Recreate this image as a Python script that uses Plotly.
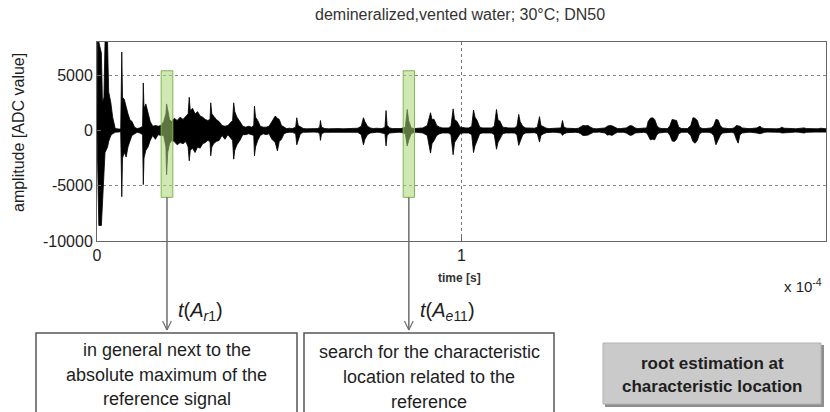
import plotly.graph_objects as go

# ---------------- data ----------------
# time in microseconds, upper / lower envelope of the signal in ADC values
t_us = [
    0.0, 0.1, 0.5, 1.2, 1.5, 1.9, 2.2, 2.9, 3.2, 3.8, 4.3, 5.0, 6.0, 6.5,
    6.8, 7.0, 7.5, 8.0, 8.5, 9.0, 9.6, 10.3, 11.0, 11.8,
    12.5, 12.7, 12.9, 13.4, 14.0, 14.6, 15.3, 16.0, 16.8, 17.5,
    18.3, 18.9, 19.1, 19.4, 19.9, 20.5, 21.2, 22.0, 22.8, 23.6, 24.4,
    25.0, 25.3, 25.6, 26.2, 26.9, 27.6, 28.3, 29.0, 29.7, 30.4,
    31.0, 31.2, 31.5, 32.0, 32.7, 33.5, 34.3, 35.1, 35.9,
    37.2, 37.5, 37.8, 38.4, 39.2, 40.0, 40.8, 41.6, 42.4,
    43.0, 43.2, 43.5, 44.1, 44.8, 45.6, 46.4, 47.2,
    48.0, 48.9, 49.5, 50.0, 50.6, 51.3, 52.0, 52.8, 53.6,
    54.5, 54.8, 55.2, 55.8, 56.6, 57.5, 58.5, 59.5, 60.5,
    61.1, 61.3, 61.6, 62.5, 63.5, 64.5, 65.5, 66.5, 67.5, 68.5, 69.5, 70.5, 71.5,
    72.5, 73.1, 73.5, 74.2, 75.0, 75.8, 76.6, 77.4, 78.2,
    79.0, 79.3, 79.6, 80.3, 81.0, 81.8, 82.6, 83.4,
    84.6, 85.1, 85.5, 86.2, 87.0, 87.8, 88.6, 89.4,
    90.6, 91.5, 91.9, 92.5, 93.2, 94.0, 94.8, 95.6, 96.4, 97.1,
    97.7, 98.1, 98.8, 99.6, 100.4, 101.2, 102.0, 102.8,
    103.3, 103.7, 104.3, 105.0, 105.8, 106.6, 107.4, 108.2, 109.0,
    109.6, 110.0, 110.6, 111.3, 112.1, 112.9, 113.7, 114.5, 115.2,
    115.7, 116.1, 116.8, 117.6, 118.4, 119.2, 120.0, 120.8,
    121.4, 121.8, 122.5, 123.3, 124.1, 124.9, 125.7, 126.5, 127.3,
    127.7, 128.1, 128.9, 129.7, 130.5, 131.3, 132.1,
    132.7, 133.3, 134.0, 134.7, 135.4, 136.2, 137.0, 137.8, 138.6, 139.4,
    140.0, 140.6, 141.3, 142.0, 142.8, 143.6, 144.4, 145.2,
    145.9, 146.4, 147.0, 147.6, 148.4, 149.2, 150.0, 150.8,
    151.2, 151.8, 152.4, 153.0, 153.6, 154.2, 155.0, 155.8, 156.6,
    157.2, 157.8, 158.4, 159.0, 159.6, 160.4, 161.2, 162.0,
    162.9, 163.5, 164.1, 164.7, 165.3, 166.1, 166.9, 167.7, 168.5,
    169.2, 169.8, 170.4, 171.0, 171.6, 172.4, 173.2, 174.0, 174.8,
    175.4, 175.9, 176.4, 177.0, 177.8, 178.6, 179.4, 180.2, 181.0,
    181.9, 182.4, 183.2, 184.0, 184.8, 185.6, 186.4, 187.2,
    187.9, 188.5, 189.3, 190.1, 190.9, 191.7, 192.5, 193.3,
    194.0, 194.6, 195.4, 196.2, 197.0, 197.8, 198.6, 199.2, 200.0,
]
upper = [
    0, 8000, 8000, 7000, 2500, 3000, 8000, 8000, 3500, 2500, 1200, 170, 130, 120,
    7100, 3000, 2800, 2000, 1500, 1000, 800, 300, 170, 230,
    380, 4300, 2000, 2400, 1500, 800, 380, 450, 380, 450,
    800, 1500, 2400, 1800, 1000, 800, 1100, 900, 1200, 1000, 1300,
    1500, 3000, 1800, 2000, 1500, 1700, 1300, 1200, 1000, 900,
    1000, 2500, 1500, 1300, 1000, 800, 450, 380, 450,
    900, 2500, 1700, 1200, 800, 380, 300, 380, 300,
    450, 2200, 1200, 900, 380, 300, 300, 380,
    800, 1300, 1100, 1000, 450, 300, 170, 200, 170,
    300, 1150, 450, 300, 170, 150, 170, 150, 170,
    300, 900, 300, 170, 150, 170, 150, 170, 150, 170, 150, 170, 200,
    380, 1150, 800, 380, 230, 170, 200, 170, 170,
    300, 1800, 450, 230, 170, 170, 170, 170,
    300, 1900, 900, 230, 170, 170, 170, 230,
    450, 1600, 1000, 1000, 450, 300, 230, 230, 230, 380,
    1950, 1000, 800, 300, 230, 230, 230, 380,
    1850, 1200, 900, 300, 230, 230, 230, 230, 380,
    1900, 1000, 800, 300, 230, 230, 230, 230, 380,
    1450, 800, 380, 230, 200, 200, 200, 300,
    1250, 450, 300, 200, 170, 170, 170, 170, 230,
    900, 300, 200, 170, 170, 170, 200,
    300, 450, 420, 450, 300, 170, 150, 170, 170, 230,
    380, 450, 420, 300, 170, 170, 170, 230,
    380, 450, 380, 230, 170, 170, 170, 230,
    800, 1100, 1150, 1000, 450, 230, 170, 170, 170,
    450, 1000, 950, 900, 300, 170, 170, 170,
    450, 1150, 1100, 900, 300, 170, 170, 170, 230,
    450, 1000, 950, 450, 230, 170, 170, 170, 230,
    450, 420, 380, 230, 170, 170, 170, 170, 230,
    380, 230, 170, 150, 150, 170, 150, 170,
    300, 200, 170, 150, 170, 150, 170, 200,
    230, 170, 150, 150, 170, 150, 200, 170, 150,
]
lower = [
    0, -3000, -8600, -8600, -6000, -4000, -2000, -1500, -1000, -450, -300, -170, -130, -120,
    -6000, -2500, -2000, -2400, -1500, -1000, -450, -300, -170, -230,
    -380, -4900, -2500, -1800, -1500, -900, -450, -800, -380, -450,
    -450, -1500, -4000, -2000, -1200, -900, -1000, -1300, -1100, -1200, -1000,
    -1500, -2750, -1800, -1600, -2000, -1500, -1600, -1200, -1100, -900,
    -1000, -2300, -1500, -1200, -1000, -900, -450, -800, -380,
    -900, -2600, -1800, -1300, -900, -380, -380, -300, -380,
    -450, -2300, -1500, -900, -450, -300, -380, -300,
    -800, -1100, -1850, -1000, -800, -300, -200, -170, -170,
    -300, -1300, -800, -300, -170, -170, -150, -150, -170,
    -300, -900, -300, -170, -150, -170, -150, -170, -170, -150, -150, -170, -170,
    -380, -1300, -800, -380, -230, -170, -170, -170, -200,
    -300, -1400, -450, -230, -170, -170, -170, -170,
    -300, -1400, -900, -300, -170, -170, -170, -230,
    -450, -2050, -1200, -900, -450, -300, -230, -230, -230, -380,
    -2200, -1100, -800, -300, -230, -230, -230, -380,
    -2000, -1400, -900, -300, -230, -230, -230, -230, -380,
    -1700, -1100, -800, -300, -230, -230, -230, -230, -380,
    -1350, -900, -380, -230, -200, -200, -200, -300,
    -1050, -450, -300, -200, -170, -170, -170, -170, -230,
    -450, -300, -200, -170, -170, -170, -200,
    -300, -450, -450, -420, -300, -170, -170, -150, -170, -230,
    -420, -380, -450, -300, -170, -170, -170, -230,
    -380, -450, -380, -230, -170, -170, -170, -230,
    -450, -850, -800, -850, -380, -230, -170, -170, -170,
    -450, -950, -1000, -800, -300, -170, -170, -170,
    -450, -1000, -1150, -900, -300, -170, -170, -170, -230,
    -450, -1300, -900, -450, -230, -170, -170, -170, -230,
    -800, -1150, -380, -230, -170, -170, -170, -170, -230,
    -300, -230, -170, -150, -150, -170, -150, -170,
    -230, -200, -150, -150, -170, -150, -170, -170,
    -230, -170, -150, -150, -150, -150, -170, -170, -150,
]
assert len(t_us) == len(upper) == len(lower)

# highlighted windows (time range in us, amplitude range)
win_t0 = [17.6, 84.0]
win_t1 = [20.8, 87.1]
win_amp = [-6050, 5400]
win_labels = ["<i>t</i>(<i>A</i><sub><i>r</i>1</sub>)", "<i>t</i>(<i>A</i><sub><i>e</i>11</sub>)"]

x_ticks = [0, 100, 200]
x_ticktext = ["0", "1", "2"]
y_ticks = [-10000, -5000, 0, 5000]
y_ticktext = ["-10000", "-5000", "0", "5000"]

box1_lines = ["in general next to the", "absolute maximum of the", "reference signal"]
box2_lines = ["search for the characteristic", "location related to the", "reference"]
box3_lines = ["root estimation at", "characteristic location"]

# ---------------- layout helpers (pixels -> paper) ----------------
W, H = 830, 412
L, R, T, B = 97, 826, 42, 241


def px(xp):
    return (xp - L) / (R - L)


def py(yp):
    return (B - yp) / (B - T)


FONT = "Liberation Sans, Arial, Helvetica, sans-serif"
TXT = "#1e1e1e"

fig = go.Figure()
fig.add_trace(go.Scatter(
    x=t_us + t_us[::-1], y=upper + lower[::-1],
    fill="toself", fillcolor="black", mode="lines",
    line=dict(color="black", width=0.8), hoverinfo="skip", showlegend=False))

shapes = []
ann = []


def text(s, x, y, size, color=TXT, xref="paper", xanchor="center", angle=0):
    ann.append(dict(text=s, xref=xref, yref="paper", x=x, y=y, xanchor=xanchor,
                    yanchor="middle", showarrow=False, textangle=angle,
                    font=dict(family=FONT, size=size, color=color)))


# green windows + arrows
for i in range(2):
    shapes.append(dict(type="rect", xref="x", yref="y", x0=win_t0[i], x1=win_t1[i],
                       y0=win_amp[0], y1=win_amp[1], layer="above",
                       fillcolor="rgba(170,215,115,0.55)",
                       line=dict(color="rgb(130,180,85)", width=1)))
    xc = (win_t0[i] + win_t1[i]) / 2
    y_top = py(B - (win_amp[0] + 10000) / 18000 * (B - T))
    shapes.append(dict(type="line", xref="x", yref="paper", x0=xc, x1=xc,
                       y0=y_top, y1=py(330), line=dict(color="#6e6e6e", width=1.5)))
    for dx in (-1.2, 1.2):
        shapes.append(dict(type="line", xref="x", yref="paper", x0=xc, x1=xc + dx,
                           y0=py(330), y1=py(321), line=dict(color="#6e6e6e", width=1.2)))
    text(win_labels[i], xc + 2.4, py(311), 20, xref="x", xanchor="left")

# text boxes
shapes.append(dict(type="rect", xref="paper", yref="paper", x0=px(36), x1=px(297),
                   y0=py(333), y1=py(440), line=dict(color="#555555", width=1.5)))
shapes.append(dict(type="rect", xref="paper", yref="paper", x0=px(304), x1=px(554),
                   y0=py(333), y1=py(440), line=dict(color="#555555", width=1.5)))
shapes.append(dict(type="rect", xref="paper", yref="paper", x0=px(605), x1=px(824),
                   y0=py(345), y1=py(407), fillcolor="#8e8e8e", line=dict(width=0)))
shapes.append(dict(type="rect", xref="paper", yref="paper", x0=px(603), x1=px(821),
                   y0=py(343), y1=py(404), fillcolor="#cacaca",
                   line=dict(color="#b0b0b0", width=1)))

for k, s in enumerate(box1_lines):
    text(s, px(166.5), py(350 + 24.5 * k), 18)
for k, s in enumerate(box2_lines):
    text(s, px(429), py(352 + 25 * k), 18)
for k, s in enumerate(box3_lines):
    text("<b>" + s + "</b>", px(712), py(363 + 24 * k), 17)

# titles / axis labels
text("demineralized,vented water; 30°C; DN50", px(460), py(15), 16, color="#333333")
text("amplitude [ADC value]", px(18), py(133), 16, angle=-90)
text("<b>time [s]</b>", px(459), py(278), 12, color="#333333")
text("x 10<sup>-4</sup>", px(803), py(285), 15)

fig.update_layout(
    width=W, height=H,
    margin=dict(l=L, r=W - R, t=T, b=H - B, autoexpand=False),
    paper_bgcolor="white", plot_bgcolor="white",
    showlegend=False, shapes=shapes, annotations=ann,
    font=dict(family=FONT, size=16, color=TXT),
    xaxis=dict(range=[0, 200], tickvals=x_ticks, ticktext=x_ticktext, automargin=False,
               showgrid=True, gridcolor="#777777", griddash="dot", gridwidth=1,
               zeroline=False, showline=True, mirror=True, linecolor="#666666", linewidth=1,
               ticks="inside", ticklen=4, tickcolor="#666666",
               tickfont=dict(family=FONT, size=16, color=TXT)),
    yaxis=dict(range=[-10000, 8000], tickvals=y_ticks, ticktext=y_ticktext, automargin=False,
               showgrid=True, gridcolor="#888888", griddash="dot", gridwidth=1,
               zeroline=False, showline=True, mirror=True, linecolor="#666666", linewidth=1,
               ticks="inside", ticklen=4, tickcolor="#666666",
               tickfont=dict(family=FONT, size=16, color=TXT)),
)

fig.write_html(
    "out.html",
    config={"displayModeBar": False},
    post_script="document.body.style.margin='0';document.body.style.overflow='hidden';",
)
